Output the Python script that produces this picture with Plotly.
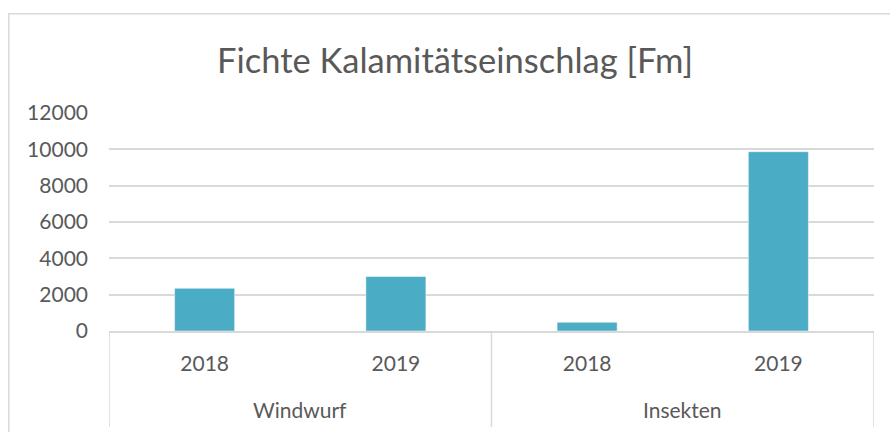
import plotly.graph_objects as go

groups = ["Windwurf", "Windwurf", "Insekten", "Insekten"]
years = ["2018", "2019", "2018", "2019"]
values = [2350, 3000, 480, 9870]
y_ticks = [0, 2000, 4000, 6000, 8000, 10000, 12000]

keys = [f"{g} {y}" for g, y in zip(groups, years)]

fig = go.Figure(go.Bar(
    x=keys, y=values,
    marker=dict(color="#4BACC6", line=dict(color="#FFFFFF", width=0.5)),
))

# group labels and dividers derived from the category order
group_names = []
for g in groups:
    if g not in group_names:
        group_names.append(g)
annotations = []
shapes = []
bounds = [-0.5]
for g in group_names:
    idx = [i for i, gg in enumerate(groups) if gg == g]
    annotations.append(dict(text=g, x=(idx[0] + idx[-1]) / 2, xref="x",
                            y=-0.362, yref="paper", yanchor="middle",
                            showarrow=False, font=dict(size=21, color="#595959")))
    bounds.append(idx[-1] + 0.5)
for b in bounds:
    shapes.append(dict(type="line", xref="x", yref="paper", x0=b, x1=b,
                       y0=0, y1=-0.44, line=dict(color="#D9D9D9", width=1.5)))
shapes.append(dict(type="rect", xref="paper", yref="paper",
                   x0=-0.131, x1=1.05, y0=-0.6, y1=1.455,
                   line=dict(color="#D9D9D9", width=1.5)))

fig.update_layout(
    width=890, height=432,
    margin=dict(l=109, r=16, t=113, b=101, autoexpand=False),
    paper_bgcolor="white", plot_bgcolor="white",
    font=dict(family="Lato, Open Sans, sans-serif", color="#595959", size=21),
    title=dict(text="Fichte Kalamitätseinschlag [Fm]", x=455 / 890, xanchor="center",
               xref="container", y=1 - 61 / 432, yanchor="middle",
               font=dict(size=34.5, color="#595959")),
    bargap=0.686,
    showlegend=False,
    annotations=annotations,
    shapes=shapes,
)
fig.update_yaxes(range=[0, 12000], tickvals=y_ticks, tickformat="d",
                 showgrid=True, gridcolor="#D9D9D9", gridwidth=1.5,
                 zeroline=False, showline=False, ticks="",
                 ticklabelstandoff=20, tickfont=dict(size=21))
fig.update_xaxes(range=[-0.5, 3.5], tickvals=keys, ticktext=years,
                 showline=True, linecolor="#D9D9D9", linewidth=1.5,
                 showgrid=False, ticks="", ticklabelstandoff=13,
                 tickfont=dict(size=21))

fig.write_html("out.html", config={"displayModeBar": False},
               post_script="document.body.style.margin='0';")
